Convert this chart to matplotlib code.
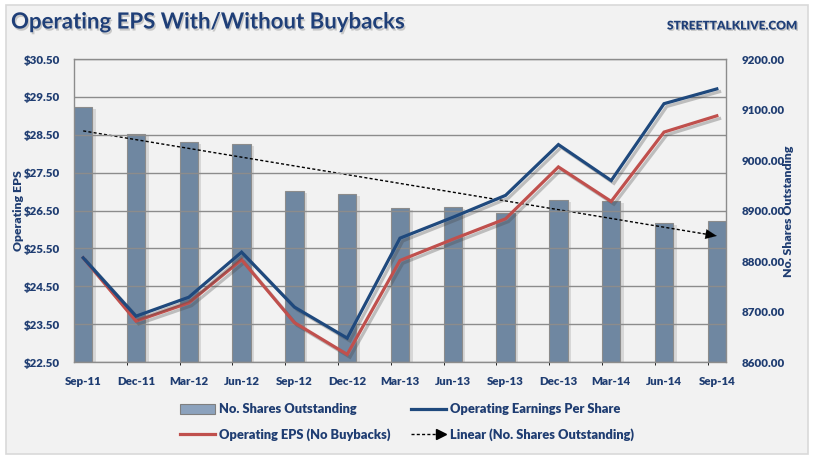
import numpy as np
import matplotlib
matplotlib.use("Agg")
import matplotlib.pyplot as plt
import matplotlib.patheffects as pe
from matplotlib.lines import Line2D
from matplotlib.patches import Patch, Rectangle
from matplotlib.legend_handler import HandlerBase

# ---------------- data ----------------
dates = ['Sep-11', 'Dec-11', 'Mar-12', 'Jun-12', 'Sep-12', 'Dec-12', 'Mar-13',
         'Jun-13', 'Sep-13', 'Dec-13', 'Mar-14', 'Jun-14', 'Sep-14']
shares = [9105, 9052, 9036, 9031, 8939, 8933, 8905, 8907, 8896, 8921, 8918, 8875, 8879]
eps = [25.25, 23.71, 24.21, 25.40, 23.95, 23.13, 25.77, 26.32, 26.90, 28.24, 27.29, 29.32, 29.71]
eps_nb = [25.25, 23.58, 24.06, 25.20, 23.54, 22.70, 25.18, 25.74, 26.28, 27.65, 26.74, 28.57, 29.00]
eps_ticks = [22.5, 23.5, 24.5, 25.5, 26.5, 27.5, 28.5, 29.5, 30.5]
share_ticks = [8600, 8700, 8800, 8900, 9000, 9100, 9200]

TXT = '#1f3d72'
BLUE = '#1f497d'
RED = '#c0504d'
BAR = '#6f87a1'
BG = '#f2f2f2'
FONT = ['Lato', 'DejaVu Sans']
W = 'heavy'
plt.rcParams['font.family'] = FONT

fig = plt.figure(figsize=(8.15, 4.61), dpi=100)
fig.patch.set_facecolor('white')
# chart frame
fig.patches.append(Rectangle((6/815, 1-454/461), (808-6)/815, (454-5)/461,
                             transform=fig.transFigure, facecolor=BG,
                             edgecolor='#d9d9d9', lw=1.2, zorder=-10))

x = np.arange(len(dates))
bw = 0.348
ax = fig.add_axes([74/815, 1-362/461, (726-74)/815, (362-59)/461])
ax.set_facecolor(BG)
ax.set_xlim(-bw/2, len(dates)-1+bw/2)
ax.set_ylim(share_ticks[0], share_ticks[-1])
bars = ax.bar(x, shares, width=bw, color=BAR, edgecolor='#8c8c8c', lw=0.8, zorder=2)
for b in bars:
    b.set_path_effects([pe.SimplePatchShadow(offset=(2.5, -1.5), shadow_rgbFace='#777777', alpha=0.22), pe.Normal()])
ax.set_xticks(x)
ax.set_xticklabels(dates)
ax.tick_params(axis='x', length=0, pad=10, labelsize=8.3, labelcolor=TXT)
for lab in ax.get_xticklabels():
    lab.set_fontweight(W)
for s in ax.spines.values():
    s.set_color('#8c8c8c')
    s.set_linewidth(1.0)

# trend line of shares
coef = np.polyfit(x, shares, 1)
trend = np.polyval(coef, x)
ax.plot([x[0], x[-1] - 0.12], [trend[0], np.polyval(coef, x[-1] - 0.12)],
        color='black', lw=1.0, ls=(0, (2.2, 1.6)), zorder=5)
ax.annotate('', xy=(x[-1], trend[-1]), xytext=(x[-1] - 0.35, np.polyval(coef, x[-1] - 0.35)),
            arrowprops=dict(arrowstyle='-|>,head_length=0.8,head_width=0.35', color='black',
                            lw=0.1, shrinkA=0, shrinkB=0), zorder=6)

ax2 = ax.twinx()
# shares axis on the right, EPS axis on the left
ax.yaxis.set_ticks_position('right')
ax.yaxis.set_label_position('right')
ax2.yaxis.set_ticks_position('left')
ax2.yaxis.set_label_position('left')
ax.set_yticks(share_ticks)
ax.set_yticklabels(['%.2f' % v for v in share_ticks])
ax.tick_params(axis='y', length=0, pad=11, labelsize=8.3, labelcolor=TXT,
               left=False, labelleft=False, right=True, labelright=True)
for lab in ax.get_yticklabels():
    lab.set_fontweight(W)

ax2.set_ylim(eps_ticks[0], eps_ticks[-1])
ax2.set_yticks(eps_ticks)
ax2.set_yticklabels(['$%.2f' % v for v in eps_ticks])
ax2.tick_params(axis='y', length=0, pad=10, labelsize=8.3, labelcolor=TXT,
                left=True, labelleft=True, right=False, labelright=False)
for lab in ax2.get_yticklabels():
    lab.set_fontweight(W)
ax2.set_xticks(x[1:] - bw/2, minor=True)
ax2.grid(True, axis='y', color='#8c8c8c', lw=1.0, zorder=1)
ax2.grid(True, axis='x', which='minor', color='#9a9a9a', lw=1.0)
ax2.tick_params(axis='x', which='minor', length=0)
for s in ax2.spines.values():
    s.set_visible(False)

shadow = [pe.SimpleLineShadow(offset=(2, -2), shadow_color='#444444', alpha=0.3), pe.Normal()]
ax2.plot(x, eps_nb, color=RED, lw=2.3, zorder=4, path_effects=shadow, solid_joinstyle='miter')
ax2.plot(x, eps, color=BLUE, lw=2.3, zorder=4, path_effects=shadow, solid_joinstyle='miter')

# axis titles
fig.text(18.5/815, 1-211/461, 'Operating EPS', rotation=90, ha='center', va='center',
         color=TXT, fontsize=8.8, fontweight=W)
fig.text(789/815, 1-211/461, 'No. Shares Outstanding', rotation=90, ha='center', va='center',
         color=TXT, fontsize=8.8, fontweight=W)

# titles
fig.text(11/815, 1-22/461, 'Operating EPS With/Without Buybacks', ha='left', va='center',
         color='#1f3f78', fontsize=16, fontweight='bold',
         path_effects=[pe.withSimplePatchShadow(offset=(1, -1.5), shadow_rgbFace='#888888', alpha=0.4)])
fig.text(797/815, 1-26/461, 'STREETTALKLIVE.COM', ha='right', va='center',
         color='#1f3f78', fontsize=8.6, fontweight=W,
         path_effects=[pe.withSimplePatchShadow(offset=(1, -1), shadow_rgbFace='#999999', alpha=0.5)])


class HandlerArrow(HandlerBase):
    def create_artists(self, legend, orig_handle, xdescent, ydescent, width, height, fontsize, trans):
        y = height / 2 - ydescent
        x0, x1 = -xdescent, width - xdescent
        ln = Line2D([x0, x1 - 6], [y, y], color='black', lw=1.0, ls=(0, (2.2, 1.6)), transform=trans)
        hd = Line2D([x1 - 4], [y], marker='>', markersize=7, color='black', lw=0, transform=trans)
        return [ln, hd]


h_bar = Patch(facecolor='#8ca2bd', edgecolor='#7f7f7f', lw=0.8)
h_blue = Line2D([], [], color=BLUE, lw=2.3)
h_red = Line2D([], [], color=RED, lw=2.3)
h_lin = Line2D([], [], color='black')
leg = fig.legend([h_bar, h_red, h_blue, h_lin],
                 ['No. Shares Outstanding', 'Operating EPS (No Buybacks)',
                  'Operating Earnings Per Share', 'Linear (No. Shares Outstanding)'],
                 ncol=2, loc='upper left', bbox_to_anchor=(174/815, 1-397/461),
                 frameon=False, fontsize=9.3, handlelength=2.7, handleheight=0.75,
                 handletextpad=0.3, columnspacing=1.6, labelspacing=1.0, borderpad=0,
                 handler_map={h_lin: HandlerArrow()})
for t in leg.get_texts():
    t.set_color(TXT)
    t.set_fontweight(W)

fig.savefig('out.png', dpi=100, facecolor=fig.get_facecolor())
